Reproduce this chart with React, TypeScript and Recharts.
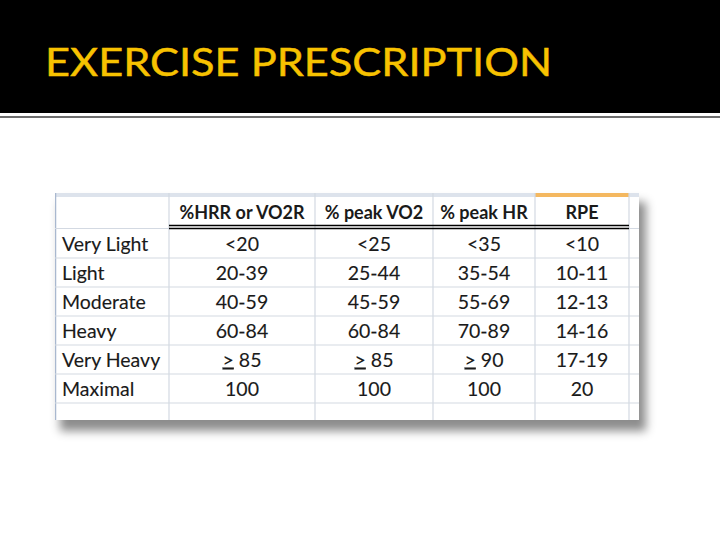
import { ScatterChart, Scatter, XAxis, YAxis, ReferenceLine, ReferenceArea } from "recharts";

const title = "EXERCISE PRESCRIPTION";
const intensity = ["Very Light", "Light", "Moderate", "Heavy", "Very Heavy", "Maximal"];
const columns = ["%HRR or VO2R", "% peak VO2", "% peak HR", "RPE"];
const hrrOrVo2r = ["<20", "20-39", "40-59", "60-84", "≥85", "100"];
const peakVo2 = ["<25", "25-44", "45-59", "60-84", "≥85", "100"];
const peakHr = ["<35", "35-54", "55-69", "70-89", "≥90", "100"];
const rpe = ["<10", "10-11", "12-13", "14-16", "17-19", "20"];

// layout of the spreadsheet grid (px)
const colWidths = [114, 146, 118, 102, 94, 10];
const stripH = 4;
const headerH = 32;
const rowH = 29;
const lastRowH = 17;

const colEdges = colWidths.reduce<number[]>((acc, w) => [...acc, acc[acc.length - 1] + w], [0]);
const tableW = colEdges[colEdges.length - 1];
const headerBottom = stripH + headerH;
const rowEdges = intensity.map((_, i) => headerBottom + rowH * (i + 1));
const tableH = headerBottom + rowH * intensity.length + lastRowH;

const valueCols = [hrrOrVo2r, peakVo2, peakHr, rpe];

type Cell = { x: number; y: number; text: string; bold?: boolean; left?: boolean };
const cells: Cell[] = [];
columns.forEach((c, j) => {
  cells.push({ x: (colEdges[j + 1] + colEdges[j + 2]) / 2, y: stripH + headerH / 2, text: c, bold: true });
});
intensity.forEach((name, i) => {
  const cy = headerBottom + rowH * i + rowH / 2;
  cells.push({ x: 7, y: cy, text: name, left: true });
  valueCols.forEach((vals, j) => {
    cells.push({ x: (colEdges[j + 1] + colEdges[j + 2]) / 2, y: cy, text: vals[i] });
  });
});

const gridColor = "#d3d9e2";

function CellText(props: any) {
  const { cx, cy, payload } = props;
  const t: string = payload.text;
  const geq = t.startsWith("≥");
  return (
    <text
      x={cx}
      y={cy}
      dy="0.36em"
      textAnchor={payload.left ? "start" : "middle"}
      fontFamily="Lato, 'Noto Sans', sans-serif"
      fontSize={payload.bold ? 18 : 19.5}
      fontWeight={payload.bold ? 700 : 400}
      fill="#1a1a1a"
      stroke={payload.bold ? "none" : "#1a1a1a"}
      strokeWidth={0.12}
    >
      {geq ? (
        <>
          <tspan textDecoration="underline">{">"}</tspan>
          <tspan>{" " + t.slice(1)}</tspan>
        </>
      ) : (
        t
      )}
    </text>
  );
}

export default function App() {
  return (
    <div style={{ position: "absolute", left: 0, top: 0, width: 720, height: 540, background: "#fff", overflow: "hidden" }}>
      <div style={{ position: "absolute", left: 0, top: 0, width: 720, height: 113, background: "#000" }}>
        <svg width={720} height={113}>
          <text
            x={45}
            y={76}
            fontFamily="Lato, 'Open Sans', sans-serif"
            fontSize={39}
            fill="#f7c200"
            stroke="#f7c200"
            strokeWidth={0.45}
            textLength={507}
            lengthAdjust="spacingAndGlyphs"
          >
            {title}
          </text>
        </svg>
      </div>
      <div style={{ position: "absolute", left: 0, top: 116, width: 720, height: 2, background: "#6e6e6e" }} />
      <div
        style={{
          position: "absolute",
          left: 55,
          top: 193,
          width: tableW,
          height: tableH,
          background: "#fff",
          boxShadow: "6px 10px 9px 1px rgba(0,0,0,0.45)",
        }}
      >
        <ScatterChart width={tableW} height={tableH} margin={{ top: 0, right: 0, bottom: 0, left: 0 }}>
          <XAxis type="number" dataKey="x" domain={[0, tableW]} hide />
          <YAxis type="number" dataKey="y" domain={[0, tableH]} reversed hide />
          <ReferenceArea x1={0} x2={tableW} y1={0} y2={stripH} fill="#dde3ec" fillOpacity={1} stroke="none" />
          <ReferenceArea x1={colEdges[4]} x2={colEdges[5]} y1={0} y2={stripH} fill="#f4b860" fillOpacity={1} stroke="none" />
          {colEdges.slice(1, -1).map((x) => (
            <ReferenceLine key={"c" + x} x={x} stroke={gridColor} strokeWidth={1.2} />
          ))}
          <ReferenceLine x={0.5} stroke="#a9b8cf" strokeWidth={1.5} />
          <ReferenceLine y={headerBottom - 0.5} stroke={gridColor} strokeWidth={1.2} />
          {rowEdges.map((y) => (
            <ReferenceLine key={"r" + y} y={y} stroke={gridColor} strokeWidth={1.2} />
          ))}
          <ReferenceLine
            segment={[{ x: colEdges[1], y: headerBottom - 3.5 }, { x: colEdges[5], y: headerBottom - 3.5 }]}
            stroke="#000"
            strokeWidth={1.6}
          />
          <ReferenceLine
            segment={[{ x: colEdges[1], y: headerBottom - 0.5 }, { x: colEdges[5], y: headerBottom - 0.5 }]}
            stroke="#000"
            strokeWidth={1.6}
          />
          <Scatter data={cells} shape={CellText} isAnimationActive={false} />
        </ScatterChart>
      </div>
    </div>
  );
}
